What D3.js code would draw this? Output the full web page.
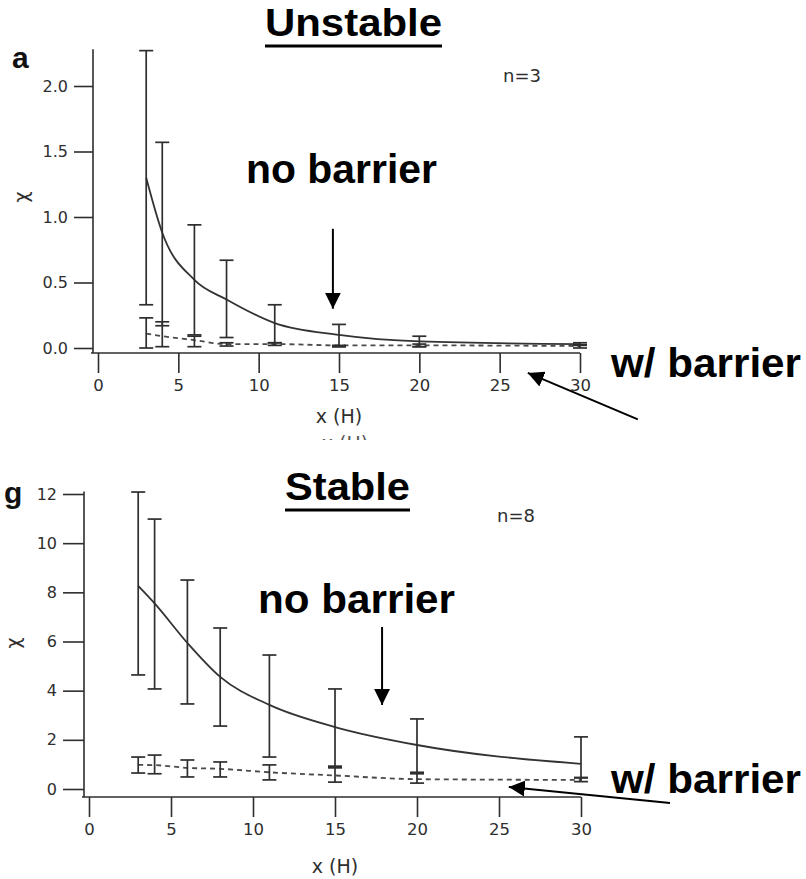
<!DOCTYPE html>
<html>
<head>
<meta charset="utf-8">
<script src="https://cdn.jsdelivr.net/npm/d3@7"></script>
<style>
  html, body { margin: 0; padding: 0; background: #fff; }
  svg { display: block; }
  text { font-family: "Liberation Sans", Arial, sans-serif; }
</style>
</head>
<body>
<svg id="fig" width="806" height="879"></svg>
<script>
// Downstream distance (in building heights H) where chi was sampled
const distances = [3, 4, 6, 8, 11, 15, 20, 30];

// Unstable case (n=3)
const unstableNoBarrier      = [1.30, 0.88, 0.52, 0.37, 0.19, 0.10, 0.05, 0.03];
const unstableNoBarrierHigh  = [2.27, 1.57, 0.94, 0.67, 0.33, 0.18, 0.09, 0.04];
const unstableNoBarrierLow   = [0.33, 0.17, 0.10, 0.08, 0.04, 0.01, 0.01, 0.02];
const unstableBarrier        = [0.11, 0.09, 0.06, 0.03, 0.03, 0.02, 0.02, 0.015];
const unstableBarrierHigh    = [0.23, 0.20, 0.09, 0.04, 0.04, 0.02, 0.03, 0.025];
const unstableBarrierLow     = [0.00, 0.01, 0.01, 0.015, 0.02, 0.01, 0.01, 0.00];

// Stable case (n=8)
const stableNoBarrier        = [8.26, 7.55, 5.94, 4.56, 3.42, 2.52, 1.79, 1.02];
const stableNoBarrierHigh    = [12.08, 10.98, 8.50, 6.55, 5.45, 4.07, 2.85, 2.12];
const stableNoBarrierLow     = [4.64, 4.07, 3.46, 2.56, 1.30, 0.93, 0.68, 0.47];
const stableBarrier          = [0.98, 0.97, 0.86, 0.82, 0.68, 0.55, 0.40, 0.37];
const stableBarrierHigh      = [1.30, 1.38, 1.18, 1.10, 0.98, 0.86, 0.62, 0.45];
const stableBarrierLow       = [0.65, 0.62, 0.49, 0.49, 0.37, 0.28, 0.24, 0.30];

// Tick labels
const xTicks = [0, 5, 10, 15, 20, 25, 30];
const unstableYTicks = [0, 0.5, 1.0, 1.5, 2.0];
const stableYTicks = [0, 2, 4, 6, 8, 10, 12];

const svg = d3.select("#fig");
const SMALL = '"DejaVu Sans", Verdana, sans-serif';
const INK = "#2e2e2e";

const defs = svg.append("defs");
// arrowhead marker for the annotations
defs.append("marker")
  .attr("id", "head")
  .attr("viewBox", "0 0 10 10")
  .attr("refX", 10).attr("refY", 5)
  .attr("markerWidth", 16).attr("markerHeight", 16)
  .attr("markerUnits", "userSpaceOnUse")
  .attr("orient", "auto")
  .append("path").attr("d", "M0,0 L10,5 L0,10 Z").attr("fill", "#000");

function panel(cfg) {
  const g = svg.append("g");
  const x = d3.scaleLinear().domain([0, 30]).range(cfg.xRange);
  const y = d3.scaleLinear().domain(cfg.yDomain).range(cfg.yRange);
  const axisY = cfg.axisY;      // vertical position of the x axis line
  const axisX = cfg.axisX;      // horizontal position of the y axis line

  // axis lines
  g.append("line")
    .attr("x1", axisX).attr("x2", axisX)
    .attr("y1", y(cfg.yTop)).attr("y2", axisY)
    .attr("stroke", INK).attr("stroke-width", 1.6);
  g.append("line")
    .attr("x1", axisX - 2).attr("x2", x(30))
    .attr("y1", axisY).attr("y2", axisY)
    .attr("stroke", INK).attr("stroke-width", 1.6);

  // y axis ticks and labels
  const ya = d3.axisLeft(y).tickValues(cfg.yTicks)
    .tickFormat(cfg.yFormat).tickSize(cfg.yTickLen).tickPadding(6);
  const yg = g.append("g").attr("transform", `translate(${axisX},0)`).call(ya);
  yg.select(".domain").remove();
  yg.selectAll(".tick line").attr("stroke", INK).attr("stroke-width", 1.6);
  yg.selectAll(".tick text").attr("fill", INK)
    .style("font-family", SMALL).style("font-size", "16px");

  // x axis ticks and labels
  const xa = d3.axisBottom(x).tickValues(xTicks).tickSize(20).tickPadding(6);
  const xg = g.append("g").attr("transform", `translate(0,${axisY})`).call(xa);
  xg.select(".domain").remove();
  xg.selectAll(".tick line").attr("stroke", INK).attr("stroke-width", 1.6);
  xg.selectAll(".tick text").attr("fill", INK)
    .style("font-family", SMALL).style("font-size", "16.5px");

  // axis titles
  g.append("text").attr("x", x(15)).attr("y", axisY + cfg.xTitleOff)
    .attr("text-anchor", "middle").attr("fill", INK)
    .style("font-family", SMALL).style("font-size", "19px").text("x (H)");
  g.append("text")
    .attr("transform", `translate(${cfg.chiX},${cfg.chiY}) rotate(-90)`)
    .attr("text-anchor", "middle").attr("fill", INK)
    .style("font-family", SMALL).style("font-size", "19px").text("χ");

  // series lines
  const pts = (vals) => distances.map((d, i) => [d, vals[i]]);
  const line = d3.line().x(d => x(d[0])).y(d => y(d[1])).curve(d3.curveMonotoneX);
  g.append("path").datum(pts(cfg.barrier))
    .attr("d", line).attr("fill", "none")
    .attr("stroke", "#4a4a4a").attr("stroke-width", 1.8)
    .attr("stroke-dasharray", "5,4");
  g.append("path").datum(pts(cfg.noBarrier))
    .attr("d", line).attr("fill", "none")
    .attr("stroke", "#333").attr("stroke-width", 1.8);

  // error bars
  const cap = 7;
  function errorBars(lo, hi) {
    const eg = g.append("g").attr("stroke", INK).attr("stroke-width", 1.7);
    distances.forEach((d, i) => {
      eg.append("line").attr("x1", x(d)).attr("x2", x(d))
        .attr("y1", y(lo[i])).attr("y2", y(hi[i]));
      [lo[i], hi[i]].forEach(v => {
        eg.append("line").attr("x1", x(d) - cap).attr("x2", x(d) + cap)
          .attr("y1", y(v)).attr("y2", y(v));
      });
    });
  }
  errorBars(cfg.barrierLow, cfg.barrierHigh);
  errorBars(cfg.noBarrierLow, cfg.noBarrierHigh);

  // sample count and panel letter
  g.append("text").attr("x", cfg.nPos[0]).attr("y", cfg.nPos[1])
    .attr("fill", INK).style("font-family", SMALL).style("font-size", "18px")
    .text(cfg.nText);
  g.append("text").attr("x", cfg.letterPos[0]).attr("y", cfg.letterPos[1])
    .attr("fill", "#111").style("font-size", "30px").style("font-weight", "bold")
    .text(cfg.letter);

  // heading with underline
  g.append("text").attr("x", cfg.titlePos[0]).attr("y", cfg.titlePos[1])
    .attr("fill", "#000").style("font-size", "38px").style("font-weight", "bold")
    .attr("textLength", cfg.titleLen).attr("lengthAdjust", "spacingAndGlyphs")
    .text(cfg.title);
  g.append("line")
    .attr("x1", cfg.titlePos[0]).attr("x2", cfg.titlePos[0] + cfg.titleLen)
    .attr("y1", cfg.titlePos[1] + 10).attr("y2", cfg.titlePos[1] + 10)
    .attr("stroke", "#000").attr("stroke-width", 3);

  // annotations
  g.append("text").attr("x", cfg.noLabel[0]).attr("y", cfg.noLabel[1])
    .attr("fill", "#000").style("font-size", "40px").style("font-weight", "bold")
    .attr("textLength", cfg.noLabel[2]).attr("lengthAdjust", "spacingAndGlyphs")
    .text("no barrier");
  g.append("text").attr("x", cfg.wLabel[0]).attr("y", cfg.wLabel[1])
    .attr("fill", "#000").style("font-size", "40px").style("font-weight", "bold")
    .attr("textLength", cfg.wLabel[2]).attr("lengthAdjust", "spacingAndGlyphs")
    .text("w/ barrier");
  cfg.arrows.forEach(a => {
    g.append("line")
      .attr("x1", x(a[0])).attr("y1", y(a[1]))
      .attr("x2", x(a[2])).attr("y2", y(a[3]))
      .attr("stroke", "#000").attr("stroke-width", 2)
      .attr("marker-end", "url(#head)");
  });
  return { g, x, y };
}

const unstablePanel = panel({
  xRange: [98, 580], yDomain: [0, 2], yRange: [348, 86], yTop: 2.28,
  axisX: 93, axisY: 353, yTickLen: 19, yTicks: unstableYTicks,
  yFormat: d3.format(".1f"), xTitleOff: 70, chiX: 28, chiY: 197,
  noBarrier: unstableNoBarrier, noBarrierHigh: unstableNoBarrierHigh, noBarrierLow: unstableNoBarrierLow,
  barrier: unstableBarrier, barrierHigh: unstableBarrierHigh, barrierLow: unstableBarrierLow,
  nText: "n=3", nPos: [503, 82], letter: "a", letterPos: [12, 68],
  title: "Unstable", titlePos: [265, 36], titleLen: 177,
  noLabel: [246, 183, 191], wLabel: [611, 377, 190],
  arrows: [[14.62, 0.91, 14.62, 0.30], [33.6, -0.545, 26.75, -0.19]]
});

// repeated axis title just peeking out under the upper panel
defs.append("clipPath").attr("id", "peek")
  .append("rect").attr("x", 0).attr("y", 432).attr("width", 806).attr("height", 8);
svg.append("text").attr("clip-path", "url(#peek)")
  .attr("x", 345).attr("y", 450).attr("text-anchor", "middle").attr("fill", "#555")
  .style("font-family", SMALL).style("font-size", "19px").text("x (H)");

const stablePanel = panel({
  xRange: [89, 581], yDomain: [0, 12], yRange: [789, 494], yTop: 12.1,
  axisX: 84, axisY: 797, yTickLen: 21, yTicks: stableYTicks,
  yFormat: d3.format("d"), xTitleOff: 76, chiX: 20, chiY: 643,
  noBarrier: stableNoBarrier, noBarrierHigh: stableNoBarrierHigh, noBarrierLow: stableNoBarrierLow,
  barrier: stableBarrier, barrierHigh: stableBarrierHigh, barrierLow: stableBarrierLow,
  nText: "n=8", nPos: [497, 522], letter: "g", letterPos: [4, 503],
  title: "Stable", titlePos: [285, 500], titleLen: 125,
  noLabel: [258, 613, 197], wLabel: [611, 793, 190],
  arrows: [[17.87, 6.59, 17.87, 3.42], [35.43, -0.57, 25.6, 0.08]]
});
</script>
</body>
</html>
